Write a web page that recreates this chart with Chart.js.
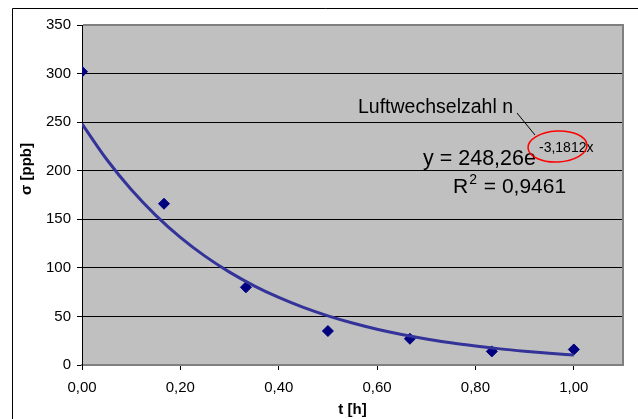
<!DOCTYPE html>
<html>
<head>
<meta charset="utf-8">
<script src="https://cdn.jsdelivr.net/npm/chart.js@4/dist/chart.umd.min.js"></script>
<style>
  html, body { margin: 0; padding: 0; background: #fff; }
  #wrap { width: 638px; height: 419px; }
</style>
</head>
<body>
<div id="wrap"><canvas id="c" width="638" height="419"></canvas></div>
<script>
// Measured values (time in hours, sigma in ppb)
const timeH = [0, 0.1667, 0.3333, 0.5, 0.6667, 0.8333, 1.0];
const sigma = [302, 166, 80, 35, 27, 14, 16];

// Exponential trend line
const trendX = [0, 0.05, 0.1, 0.15, 0.2, 0.25, 0.3, 0.35, 0.4, 0.45, 0.5, 0.55, 0.6, 0.65, 0.7, 0.75, 0.8, 0.85, 0.9, 0.95, 1.0];
const trendY = [248.3, 211.8, 180.6, 154.1, 131.4, 112.1, 95.6, 81.5, 69.5, 59.3, 50.6, 43.2, 36.8, 31.4, 26.8, 22.8, 19.5, 16.6, 14.2, 12.1, 10.3];

// Tick labels
const xTicks = [0, 0.2, 0.4, 0.6, 0.8, 1.0];
const yTicks = [0, 50, 100, 150, 200, 250, 300, 350];

// Texts
const xTitle = 't [h]';
const yTitle = 'σ [ppb]';
const noteLabel = 'Luftwechselzahl n';
const eqMain = 'y = 248,26e';
const eqExp = '-3,1812x';
const r2Label = 'R';
const r2Exp = '2';
const r2Value = ' = 0,9461';

const FONT = "'Liberation Sans', Arial, sans-serif";

const decor = {
  id: 'decor',
  beforeDraw(chart) {
    const { ctx, chartArea: a } = chart;
    ctx.save();
    ctx.fillStyle = '#fff';
    ctx.fillRect(0, 0, chart.width, chart.height);
    ctx.fillStyle = '#c0c0c0';
    ctx.fillRect(a.left, a.top, a.right - a.left, a.bottom - a.top);
    // outer chart frame
    ctx.strokeStyle = '#000';
    ctx.lineWidth = 1;
    ctx.beginPath();
    ctx.moveTo(12.5, chart.height + 2);
    ctx.lineTo(12.5, 8.5);
    ctx.lineTo(chart.width + 2, 8.5);
    ctx.stroke();
    ctx.restore();
  },
  afterDraw(chart) {
    const { ctx, chartArea: a } = chart;
    ctx.save();
    // plot area border top/right
    ctx.strokeStyle = '#808080';
    ctx.lineWidth = 2;
    ctx.beginPath();
    ctx.moveTo(a.left + 1, a.top);
    ctx.lineTo(a.right, a.top);
    ctx.lineTo(a.right, a.bottom);
    ctx.stroke();

    // y axis title
    ctx.fillStyle = '#000';
    ctx.font = 'bold 15px ' + FONT;
    ctx.textAlign = 'center';
    ctx.textBaseline = 'middle';
    ctx.translate(27, 169);
    ctx.rotate(-Math.PI / 2);
    ctx.fillText(yTitle, 0, 0);
    ctx.setTransform(1, 0, 0, 1, 0, 0);

    // annotation
    ctx.textAlign = 'left';
    ctx.textBaseline = 'alphabetic';
    ctx.font = '19.5px ' + FONT;
    ctx.fillText(noteLabel, 358, 113);

    ctx.strokeStyle = '#000';
    ctx.lineWidth = 1;
    ctx.beginPath();
    ctx.moveTo(517, 113);
    ctx.lineTo(535, 135);
    ctx.stroke();

    ctx.font = '21.5px ' + FONT;
    ctx.fillText(eqMain, 423, 165);
    ctx.font = '14px ' + FONT;
    ctx.fillText(eqExp, 539, 152);

    ctx.font = '21px ' + FONT;
    ctx.fillText(r2Label, 453, 193);
    const wR = ctx.measureText(r2Label).width;
    ctx.font = '14px ' + FONT;
    ctx.fillText(r2Exp, 453 + wR + 1, 184);
    const w2 = ctx.measureText(r2Exp).width;
    ctx.font = '21px ' + FONT;
    ctx.fillText(r2Value, 453 + wR + w2 + 2, 193);

    ctx.strokeStyle = '#ff0000';
    ctx.lineWidth = 1.5;
    ctx.beginPath();
    ctx.ellipse(557.5, 146.5, 29.5, 15.5, -0.05, 0, Math.PI * 2);
    ctx.stroke();
    ctx.restore();
  }
};

new Chart(document.getElementById('c'), {
  type: 'scatter',
  data: {
    datasets: [
      {
        label: 'Trend',
        data: trendX.map((x, i) => ({ x, y: trendY[i] })),
        showLine: true,
        borderColor: '#333399',
        borderWidth: 3,
        pointRadius: 0,
        pointHoverRadius: 0,
        cubicInterpolationMode: 'monotone',
        fill: false
      },
      {
        label: 'σ',
        data: timeH.map((x, i) => ({ x, y: sigma[i] })),
        showLine: false,
        pointStyle: 'rectRot',
        pointRadius: 5.5,
        pointBackgroundColor: '#000080',
        pointBorderColor: '#000080',
        pointBorderWidth: 1
      }
    ]
  },
  plugins: [decor],
  options: {
    responsive: false,
    animation: false,
    devicePixelRatio: 1,
    layout: { padding: { top: 25, right: 15, left: 0, bottom: 0 } },
    plugins: {
      legend: { display: false },
      tooltip: { enabled: false },
      title: { display: false }
    },
    scales: {
      x: {
        type: 'linear',
        position: 'bottom',
        min: 0,
        max: 1.1,
        afterBuildTicks(scale) { scale.ticks = xTicks.map(v => ({ value: v })); },
        afterFit(scale) { scale.height = 54; },
        ticks: {
          color: '#000',
          font: { family: FONT, size: 15 },
          padding: 9,
          maxRotation: 0,
          autoSkip: false,
          callback: v => Number(v).toFixed(2).replace('.', ',')
        },
        grid: { drawOnChartArea: false, drawTicks: true, tickLength: 5, color: '#000', lineWidth: 1 },
        border: { display: true, color: '#808080', width: 2 },
        title: {
          display: true,
          text: xTitle,
          color: '#000',
          font: { family: FONT, size: 15, weight: 'bold' },
          padding: { top: 0, bottom: 0 }
        }
      },
      y: {
        type: 'linear',
        min: 0,
        max: 350,
        afterBuildTicks(scale) { scale.ticks = yTicks.map(v => ({ value: v })); },
        afterFit(scale) { scale.width = 82; },
        ticks: {
          color: '#000',
          font: { family: FONT, size: 15 },
          padding: 6,
          autoSkip: false
        },
        grid: { drawOnChartArea: true, drawTicks: true, tickLength: 5, color: '#000', lineWidth: 1 },
        border: { display: true, color: '#000', width: 1 }
      }
    }
  }
});
</script>
</body>
</html>
